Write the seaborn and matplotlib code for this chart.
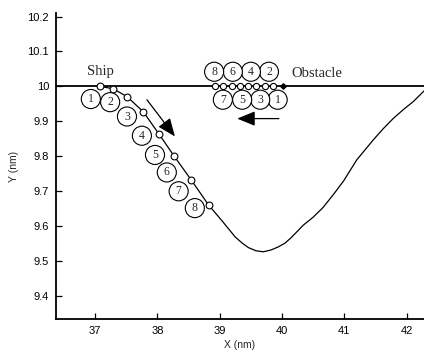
import matplotlib
matplotlib.use("Agg")
import matplotlib.pyplot as plt
import seaborn as sns
import pandas as pd

# Ship track (nm)
track_x = [37.07, 37.28, 37.51, 37.77, 38.02, 38.27, 38.54, 38.82, 39.03, 39.25,
           39.36, 39.46, 39.58, 39.70, 39.82, 39.94, 40.05, 40.15, 40.34, 40.50,
           40.66, 40.83, 40.99, 41.20, 41.47, 41.63, 41.79, 41.95, 42.11, 42.28]
track_y = [10.0, 9.994, 9.971, 9.928, 9.865, 9.800, 9.733, 9.661, 9.617, 9.569,
           9.552, 9.539, 9.530, 9.527, 9.532, 9.541, 9.552, 9.568, 9.603, 9.626,
           9.654, 9.692, 9.730, 9.790, 9.848, 9.880, 9.909, 9.934, 9.957, 9.987]
n_ship_fixes = 8

# Obstacle path along Y = 10 nm
obstacle_y = 10.0
obstacle_x = [38.93, 39.06, 39.19, 39.32, 39.46, 39.59, 39.72, 39.85]
obstacle_start_x = 40.02

# Step labels
ship_label_x = [36.93, 37.24, 37.51, 37.75, 37.96, 38.15, 38.34, 38.60]
ship_label_y = [9.964, 9.955, 9.914, 9.859, 9.804, 9.754, 9.700, 9.652]
obst_label_x = [39.93, 39.79, 39.65, 39.50, 39.36, 39.21, 39.05, 38.91]
obst_label_y = [9.962, 10.042, 9.962, 10.042, 9.962, 10.042, 9.962, 10.042]
step_labels = ["1", "2", "3", "4", "5", "6", "7", "8"]

x_ticks = [37, 38, 39, 40, 41, 42]
y_ticks = [9.4, 9.5, 9.6, 9.7, 9.8, 9.9, 10.0, 10.1, 10.2]
y_tick_labels = ["9.4", "9.5", "9.6", "9.7", "9.8", "9.9", "10", "10.1", "10.2"]

sns.set_theme(style="ticks")
plt.rcParams["font.family"] = ["Liberation Sans", "DejaVu Sans"]

fig = plt.figure(figsize=(4.24, 3.52), dpi=100)
ax = fig.add_axes([0.132, 0.093, 0.868, 0.870])

track = pd.DataFrame({"x": track_x, "y": track_y})
ship = track.iloc[:n_ship_fixes]
obst = pd.DataFrame({"x": obstacle_x, "y": [obstacle_y] * len(obstacle_x)})

ax.axhline(obstacle_y, color="black", lw=1.3, zorder=1)
sns.lineplot(data=track, x="x", y="y", sort=False, estimator=None,
             color="black", lw=0.9, ax=ax, zorder=2)
sns.scatterplot(data=ship, x="x", y="y", marker="o", s=24,
                facecolor="white", edgecolor="black", linewidth=0.8,
                ax=ax, zorder=3)
sns.scatterplot(data=obst, x="x", y="y", marker="o", s=20,
                facecolor="white", edgecolor="black", linewidth=0.8,
                ax=ax, zorder=3)
ax.plot([obstacle_start_x], [obstacle_y], marker="D", ms=2.8,
        color="black", zorder=3)

circ = dict(boxstyle="circle,pad=0.3", fc="white", ec="black", lw=0.8)
for lx, ly, t in zip(ship_label_x, ship_label_y, step_labels):
    ax.text(lx, ly, t, ha="center", va="center", fontsize=8.5,
            family="Liberation Serif", bbox=circ, zorder=4)
for lx, ly, t in zip(obst_label_x, obst_label_y, step_labels):
    ax.text(lx, ly, t, ha="center", va="center", fontsize=8.5,
            family="Liberation Serif", bbox=circ, zorder=4)

ax.text(37.09, 10.042, "Ship", ha="center", va="center",
        family="Liberation Serif", fontsize=10.5)
ax.text(40.56, 10.037, "Obstacle", ha="center", va="center",
        family="Liberation Serif", fontsize=10.5)

arrow = dict(arrowstyle="-|>,head_length=1.1,head_width=0.45",
             mutation_scale=10, color="black", lw=0.9, shrinkA=0, shrinkB=0)
ax.annotate("", xy=(38.28, 9.857), xytext=(37.83, 9.962), arrowprops=arrow)
ax.annotate("", xy=(39.28, 9.908), xytext=(39.95, 9.908), arrowprops=arrow)

ax.set_xlim(36.37, 42.28)
ax.set_ylim(9.334, 10.21)
ax.set_xticks(x_ticks)
ax.set_xticklabels([str(v) for v in x_ticks])
ax.set_yticks(y_ticks)
ax.set_yticklabels(y_tick_labels)
ax.tick_params(direction="in", length=4, width=0.9, labelsize=8,
               colors="black", pad=5)
ax.set_xlabel("X (nm)", fontsize=7.5, labelpad=3)
ax.set_ylabel("Y (nm)", fontsize=7.5, labelpad=6)

sns.despine(ax=ax)
for side in ("left", "bottom"):
    ax.spines[side].set_linewidth(1.3)
    ax.spines[side].set_color("black")

fig.savefig("out.png", dpi=100)
